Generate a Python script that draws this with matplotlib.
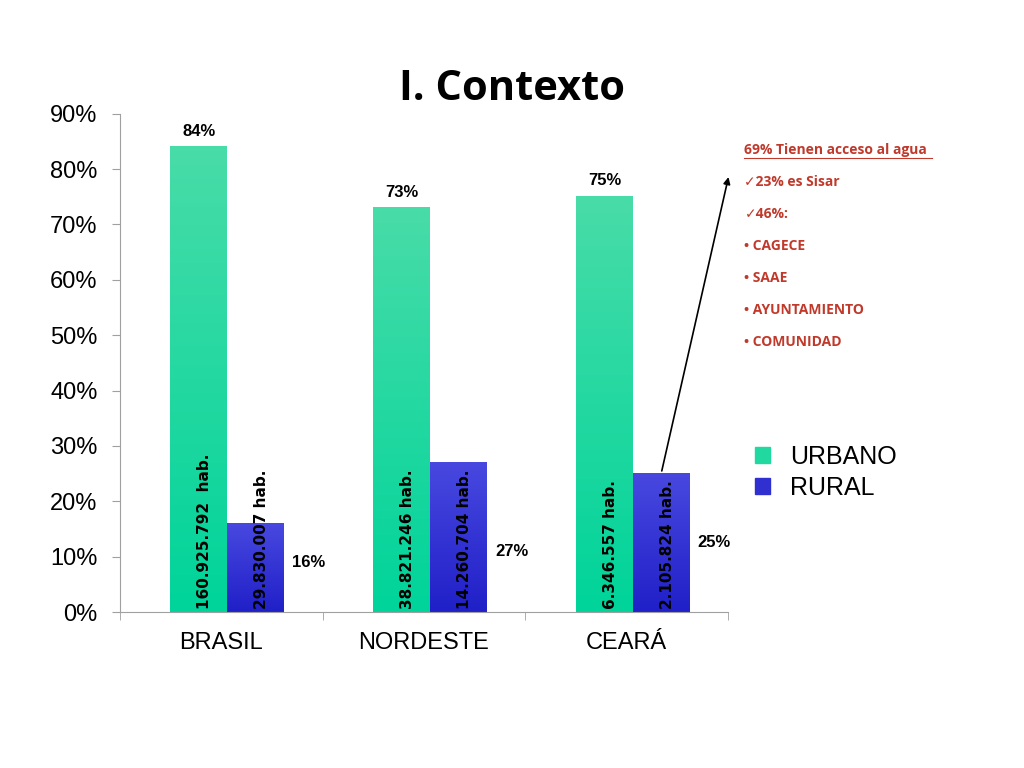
import numpy as np
import matplotlib.pyplot as plt
from matplotlib.patches import Patch
from matplotlib.colors import LinearSegmentedColormap

plt.rcParams['font.family'] = ['Liberation Sans', 'DejaVu Sans']

categorias = ['BRASIL', 'NORDESTE', 'CEARÁ']
urbano = [84, 73, 75]
rural = [16, 27, 25]
etiqueta_rural_y = [9, 11, 12.5]
hab_urbano = ['160.925.792  hab.', '38.821.246 hab.', '6.346.557 hab.']
hab_rural = ['29.830.007 hab.', '14.260.704 hab.', '2.105.824 hab.']
notas = ['69% Tienen acceso al agua', '\u271323% es Sisar', '\u271346%:',
         '\u2022 CAGECE', '\u2022 SAAE', '\u2022 AYUNTAMIENTO', '\u2022 COMUNIDAD']

fig = plt.figure(figsize=(10.24, 7.68), dpi=100)
ax = fig.add_axes([0.117, 0.203, 0.594, 0.649])

x = np.arange(len(categorias)) + 0.53
w = 0.28

def barra_gradiente(ax, xc, h, c_top, c_bot):
    grad = np.linspace(0, 1, 100).reshape(-1, 1)
    cm = LinearSegmentedColormap.from_list('g', [c_bot, c_top])
    ax.imshow(grad, cmap=cm, origin='lower', aspect='auto',
              extent=[xc - w / 2, xc + w / 2, 0, h], zorder=2)

for i in range(len(categorias)):
    xu = x[i] - w / 2
    xr = x[i] + w / 2
    barra_gradiente(ax, xu, urbano[i], '#48DCA8', '#00D49A')
    barra_gradiente(ax, xr, rural[i], '#4848E0', '#2020C8')
    ax.text(xu, urbano[i] + 1.5, f'{urbano[i]}%', ha='center', va='bottom',
            fontsize=12, fontweight='bold')
    ax.text(xr + w / 2 + 0.04, etiqueta_rural_y[i], f'{rural[i]}%', ha='left',
            va='center', fontsize=12, fontweight='bold')
    ax.text(xu + 0.03, 0.5, hab_urbano[i], rotation=90, ha='center', va='bottom',
            fontsize=11, fontweight='bold', family='DejaVu Sans')
    ax.text(xr + 0.03, 0.5, hab_rural[i], rotation=90, ha='center', va='bottom',
            fontsize=11, fontweight='bold', family='DejaVu Sans')

ax.set_xlim(0, 3)
ax.set_ylim(0, 90)
ax.set_yticks(np.arange(0, 91, 10))
ax.set_yticklabels([f'{v}%' for v in range(0, 91, 10)], fontsize=17)
ax.set_xticks(np.arange(len(categorias)) + 0.5)
ax.set_xticklabels(categorias, fontsize=17)
ax.set_xticks([0, 1, 2, 3], minor=True)
ax.tick_params(axis='x', which='major', length=0, pad=14)
ax.tick_params(axis='x', which='minor', length=6, color='#A0A0A0')
ax.tick_params(axis='y', length=6, color='#A0A0A0', pad=10)
for s in ['top', 'right']:
    ax.spines[s].set_visible(False)
ax.spines['left'].set_color('#A0A0A0')
ax.spines['bottom'].set_color('#A0A0A0')

fig.text(0.5, 0.883, 'I. Contexto', ha='center', va='center', fontsize=30,
         fontweight='bold', family=['Open Sans', 'DejaVu Sans'])

fig.legend(handles=[Patch(color='#20D8A0', label='URBANO'),
                    Patch(color='#3030D0', label='RURAL')],
           loc='center left', bbox_to_anchor=(0.715, 0.385), frameon=False,
           fontsize=18, handlelength=0.6, handleheight=0.6, labelspacing=0.3)

for k, t in enumerate(notas):
    fig.text(0.727, 0.799 - k * 0.0415, t, fontsize=10, color='#C0392B',
             fontweight='bold', family=['Open Sans', 'DejaVu Sans'])
    if k == 0:
        fig.lines.append(plt.Line2D([0.727, 0.91], [0.794, 0.794], color='#C0392B',
                                    lw=0.8, transform=fig.transFigure))

ax.annotate('', xy=(0.712, 0.773), xycoords='figure fraction',
            xytext=(x[2] + w / 2, rural[2]), textcoords='data',
            arrowprops=dict(arrowstyle='-|>', color='black', lw=1.2))

fig.savefig('out.png', dpi=100)
